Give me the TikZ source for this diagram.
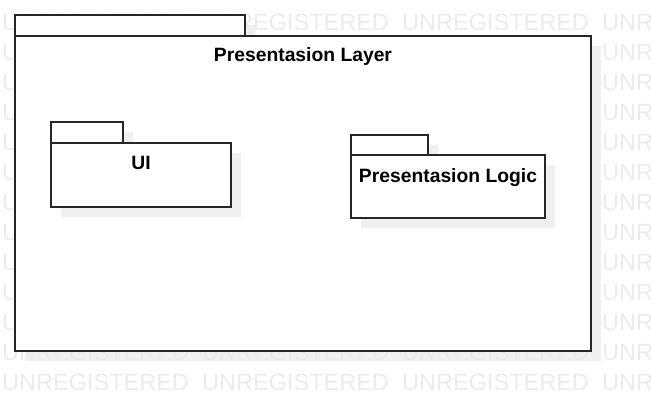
\documentclass[tikz,border=0pt]{standalone}
\usepackage{fontspec}
\setmainfont{Liberation Sans}
\begin{document}
\begin{tikzpicture}[x=1pt,y=-1pt,
  pkg/.style={draw=black!85, line width=1.3pt, fill=white},
  shadowbox/.style={fill=black!6, draw=none},
  wm/.style={text=black!8, font=\fontsize{23.5}{23.5}\selectfont, anchor=base west, inner sep=0pt},
  lbl/.style={font=\bfseries\fontsize{19.3}{19.3}\selectfont, inner sep=0pt, anchor=base}]
\useasboundingbox (0,0) rectangle (651,411);
% shadows
\fill[shadowbox] (25,25) rectangle (255,46);
\fill[shadowbox] (25,46) rectangle (601,361);
% watermark
\foreach \r in {0,...,12} {
  \foreach \c in {0,1,2,3} {
    \node[wm] (wm-\r-\c) at ({\c*200+2},{30.4+30*\r}) {UNREGISTERED};
  }
}
% outer package
\draw[pkg] (15,15) rectangle (245,36);
\draw[pkg] (15,36) rectangle (591,351);
\node[lbl] (layer) at (303,62) {Presentasion Layer};
% UI package shadow + shape
\fill[shadowbox] (61,132) rectangle (133,153);
\fill[shadowbox] (61,153) rectangle (241,217);
\draw[pkg] (51,122) rectangle (123,143);
\draw[pkg] (51,143) rectangle (231,207);
\node[lbl] (ui) at (141,170) {UI};
% Presentation Logic package
\fill[shadowbox] (361,145) rectangle (438,165);
\fill[shadowbox] (361,165) rectangle (555,228);
\draw[pkg] (351,135) rectangle (428,155);
\draw[pkg] (351,155) rectangle (545,218);
\node[lbl] (logic) at (448,183) {Presentasion Logic};
\end{tikzpicture}
\end{document}
